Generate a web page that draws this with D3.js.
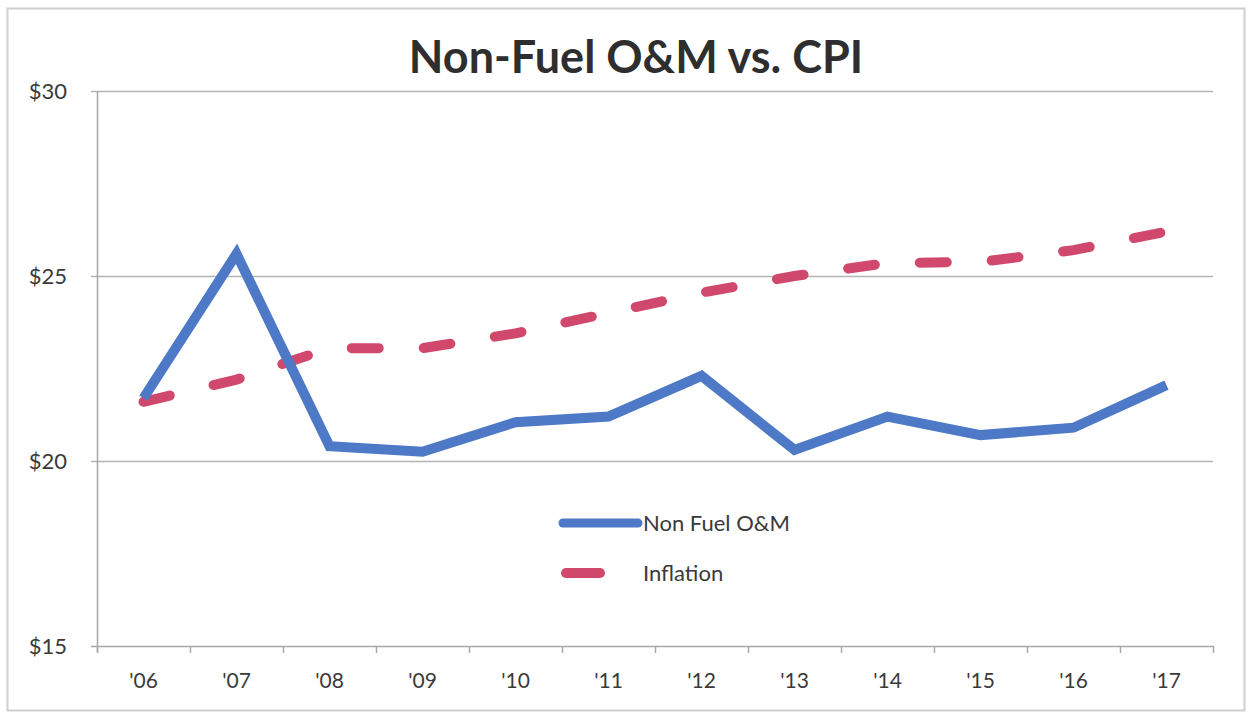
<!DOCTYPE html>
<html>
<head>
<meta charset="utf-8">
<script src="https://cdn.jsdelivr.net/npm/d3@7"></script>
<style>
  body { margin: 0; background: #fff; }
  text { font-family: Lato, "Open Sans", sans-serif; fill: #3a3a3a; }
</style>
</head>
<body>
<svg id="chart" width="1252" height="713"></svg>
<script>
// chart data
var years = ["'06", "'07", "'08", "'09", "'10", "'11", "'12", "'13", "'14", "'15", "'16", "'17"];
var nonFuel = [21.7, 25.6, 20.4, 20.25, 21.05, 21.2, 22.3, 20.3, 21.2, 20.7, 20.9, 22.05];
var inflation = [21.6, 22.2, 23.05, 23.05, 23.45, 24.0, 24.55, 25.0, 25.35, 25.38, 25.7, 26.2];
var yTicks = [15, 20, 25, 30];
var seriesNames = ["Non Fuel O&M", "Inflation"];

var svg = d3.select("#chart");

var plot = { left: 97, right: 1213, top: 91, bottom: 646 };

// outer frame
svg.append("rect")
    .attr("x", 7.5).attr("y", 8.5)
    .attr("width", 1237).attr("height", 702)
    .attr("fill", "none")
    .attr("stroke", "#cfcfcf")
    .attr("stroke-width", 2);

var x = d3.scaleBand()
    .domain(years)
    .range([plot.left, plot.right]);

var y = d3.scaleLinear()
    .domain([15, 30])
    .range([plot.bottom, plot.top]);

// horizontal gridlines
svg.append("g")
    .selectAll("line")
    .data(yTicks)
    .join("line")
    .attr("x1", plot.left - 6)
    .attr("x2", plot.right)
    .attr("y1", d => y(d) + 0.5)
    .attr("y2", d => y(d) + 0.5)
    .attr("stroke", d => d == 15 ? "#a8a8a8" : "#b4b4b4")
    .attr("stroke-width", 1.5);

// y axis line
svg.append("line")
    .attr("x1", plot.left + 0.5).attr("x2", plot.left + 0.5)
    .attr("y1", plot.top).attr("y2", plot.bottom + 6)
    .attr("stroke", "#a8a8a8")
    .attr("stroke-width", 1.5);

// y labels
svg.append("g")
    .selectAll("text")
    .data(yTicks)
    .join("text")
    .attr("x", 67)
    .attr("y", d => y(d))
    .attr("dy", "0.36em")
    .attr("text-anchor", "end")
    .attr("font-size", 22)
    .text(d => "$" + d);

// x tick marks at band edges
var edges = years.map(d => x(d)).concat([plot.right]);
svg.append("g")
    .selectAll("line")
    .data(edges)
    .join("line")
    .attr("x1", d => d + 0.5).attr("x2", d => d + 0.5)
    .attr("y1", plot.bottom).attr("y2", plot.bottom + 7)
    .attr("stroke", "#a8a8a8")
    .attr("stroke-width", 1.5);

// x labels
svg.append("g")
    .selectAll("text")
    .data(years)
    .join("text")
    .attr("x", d => x(d) + x.bandwidth() / 2)
    .attr("y", 688)
    .attr("text-anchor", "middle")
    .attr("font-size", 21)
    .text(d => d);

var line = d3.line()
    .x((d, i) => x(years[i]) + x.bandwidth() / 2)
    .y(d => y(d));

// inflation, dashed
svg.append("path")
    .datum(inflation)
    .attr("d", line)
    .attr("fill", "none")
    .attr("stroke", "#d1486d")
    .attr("stroke-width", 10)
    .attr("stroke-linecap", "round")
    .attr("stroke-dasharray", "27,45");

// non-fuel O&M, solid
svg.append("path")
    .datum(nonFuel)
    .attr("d", line)
    .attr("fill", "none")
    .attr("stroke", "#4d79c6")
    .attr("stroke-width", 10)
    .attr("stroke-linejoin", "miter");

// title
svg.append("text")
    .attr("x", 636)
    .attr("y", 73)
    .attr("text-anchor", "middle")
    .attr("font-size", 45)
    .attr("font-weight", "bold")
    .style("fill", "#2e2e2e")
    .text("Non-Fuel O&M vs. CPI");

// legend
var legend = svg.append("g");
legend.append("line")
    .attr("x1", 563).attr("x2", 638)
    .attr("y1", 523).attr("y2", 523)
    .attr("stroke", "#4d79c6")
    .attr("stroke-width", 9)
    .attr("stroke-linecap", "round");
legend.append("line")
    .attr("x1", 566).attr("x2", 600)
    .attr("y1", 573).attr("y2", 573)
    .attr("stroke", "#d1486d")
    .attr("stroke-width", 10)
    .attr("stroke-linecap", "round");
legend.selectAll("text")
    .data(seriesNames)
    .join("text")
    .attr("x", 643)
    .attr("y", (d, i) => 523 + i * 50)
    .attr("dy", "0.36em")
    .attr("font-size", 22)
    .text(d => d);
</script>
</body>
</html>
